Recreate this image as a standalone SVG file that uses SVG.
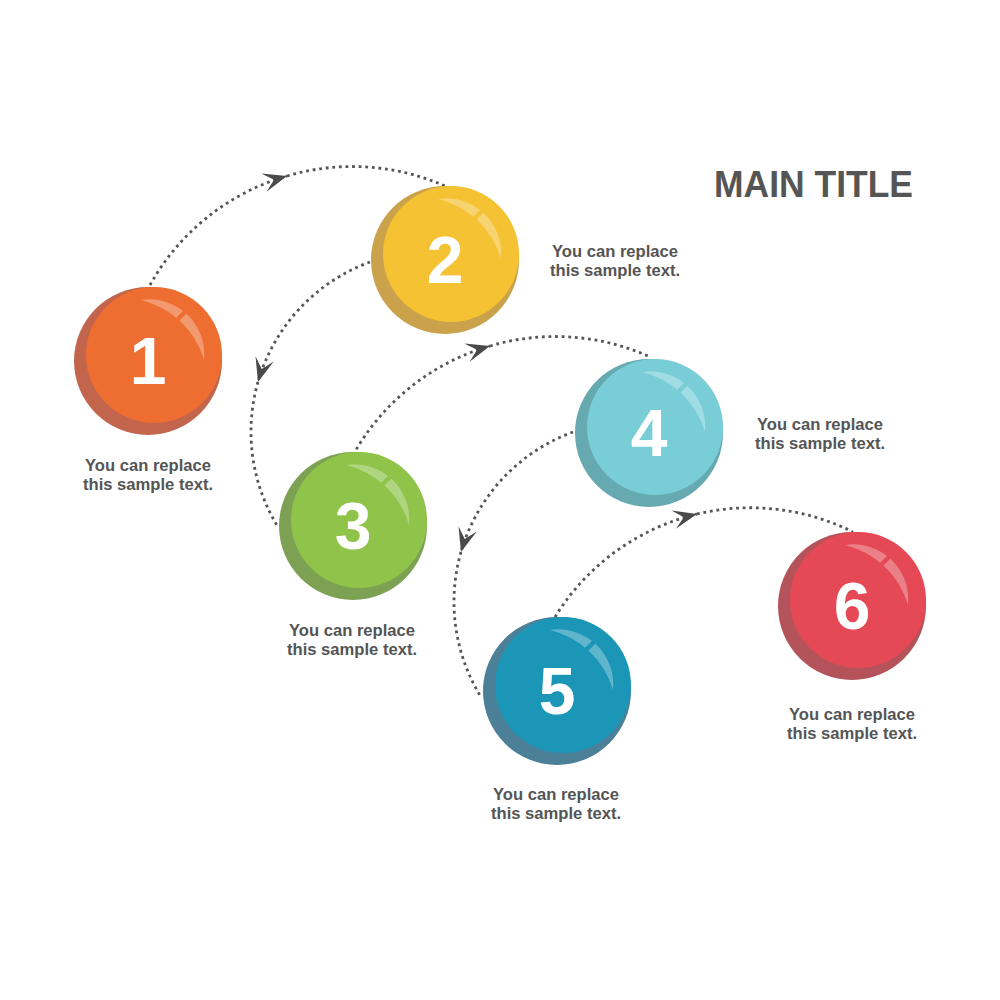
<svg xmlns="http://www.w3.org/2000/svg" xmlns:xlink="http://www.w3.org/1999/xlink" width="1000" height="1000" viewBox="0 0 1000 1000">
<style>
.conn{fill:none;stroke:#555;stroke-width:2.8;stroke-dasharray:2.8 3.8}
.num{font-family:"Liberation Sans",Arial,sans-serif;font-weight:bold;font-size:66px;fill:#fff;text-anchor:middle}
.lbl{font-family:"Liberation Sans",Arial,sans-serif;font-weight:bold;font-size:16.6px;fill:#555;text-anchor:middle}
.title{font-family:"Liberation Sans",Arial,sans-serif;font-weight:bold;font-size:37px;fill:#555}
.hl{fill:#fff;fill-opacity:0.3}
</style>
<defs>
<marker id="arr" markerUnits="userSpaceOnUse" markerWidth="32" markerHeight="32" viewBox="-28 -16 32 32" refX="0" refY="0" orient="auto">
<path d="M0,0 L-24,-9.5 L-13.5,0 L-24,9.5 Z" fill="#4a4a4a"/>
</marker>
<mask id="gap" maskUnits="userSpaceOnUse" x="-80" y="-80" width="160" height="160">
<rect x="-80" y="-80" width="160" height="160" fill="#fff"/>
<line x1="25" y1="-37" x2="46" y2="-58" stroke="#000" stroke-width="4.5"/>
</mask>
<g id="shine">
<path class="hl" mask="url(#gap)" d="M-7,-61 A55,55 0 0 1 56,-1 A87,87 0 0 0 -7,-61 Z"/>
</g>
</defs>
<rect width="1000" height="1000" fill="#fff"/>
<g id="connectors">
<path class="conn" marker-end="url(#arr)" d="M150,285 A230,230 0 0 1 287,176"/>
<path class="conn" d="M287,176 A230,230 0 0 1 445,186"/>
<path class="conn" marker-end="url(#arr)" d="M370,262 A181,181 0 0 0 258,382"/>
<path class="conn" d="M258,382 A181,181 0 0 0 278,527"/>
<path class="conn" marker-end="url(#arr)" d="M353,455 A230,230 0 0 1 490,346"/>
<path class="conn" d="M490,346 A230,230 0 0 1 648,356"/>
<path class="conn" marker-end="url(#arr)" d="M573,432 A181,181 0 0 0 461,552"/>
<path class="conn" d="M461,552 A181,181 0 0 0 481,697"/>
<path class="conn" marker-end="url(#arr)" d="M555,617 A230,230 0 0 1 697,514"/>
<path class="conn" d="M697,514 A230,230 0 0 1 853,532"/>
</g>
<g id="node1" transform="translate(148,361)">
<circle r="74" fill="#C2654C"/><circle cx="6" cy="-6" r="68" fill="#EE6E32"/><use xlink:href="#shine"/>
<text class="num" x="0" y="23">1</text>
</g>
<g id="node2" transform="translate(445,260)">
<circle r="74" fill="#C9A24B"/><circle cx="6" cy="-6" r="68" fill="#F4C232"/><use xlink:href="#shine"/>
<text class="num" x="0" y="23">2</text>
</g>
<g id="node3" transform="translate(353,526)">
<circle r="74" fill="#7DA152"/><circle cx="6" cy="-6" r="68" fill="#8FC34A"/><use xlink:href="#shine"/>
<text class="num" x="0" y="23">3</text>
</g>
<g id="node4" transform="translate(649,433)">
<circle r="74" fill="#67A9B1"/><circle cx="6" cy="-6" r="68" fill="#78CDD7"/><use xlink:href="#shine"/>
<text class="num" x="0" y="23">4</text>
</g>
<g id="node5" transform="translate(557,691)">
<circle r="74" fill="#4C8098"/><circle cx="6" cy="-6" r="68" fill="#1B96B7"/><use xlink:href="#shine"/>
<text class="num" x="0" y="23">5</text>
</g>
<g id="node6" transform="translate(852,606)">
<circle r="74" fill="#B5535A"/><circle cx="6" cy="-6" r="68" fill="#E44955"/><use xlink:href="#shine"/>
<text class="num" x="0" y="23">6</text>
</g>
<g id="labels">
<text class="lbl" x="148" y="471">You can replace</text><text class="lbl" x="148" y="490">this sample text.</text>
<text class="lbl" x="615" y="257">You can replace</text><text class="lbl" x="615" y="276">this sample text.</text>
<text class="lbl" x="352" y="636">You can replace</text><text class="lbl" x="352" y="655">this sample text.</text>
<text class="lbl" x="820" y="430">You can replace</text><text class="lbl" x="820" y="449">this sample text.</text>
<text class="lbl" x="556" y="800">You can replace</text><text class="lbl" x="556" y="819">this sample text.</text>
<text class="lbl" x="852" y="720">You can replace</text><text class="lbl" x="852" y="739">this sample text.</text>
</g>
<text id="title" class="title" x="714" y="197" textLength="199" lengthAdjust="spacingAndGlyphs">MAIN TITLE</text>
</svg>
